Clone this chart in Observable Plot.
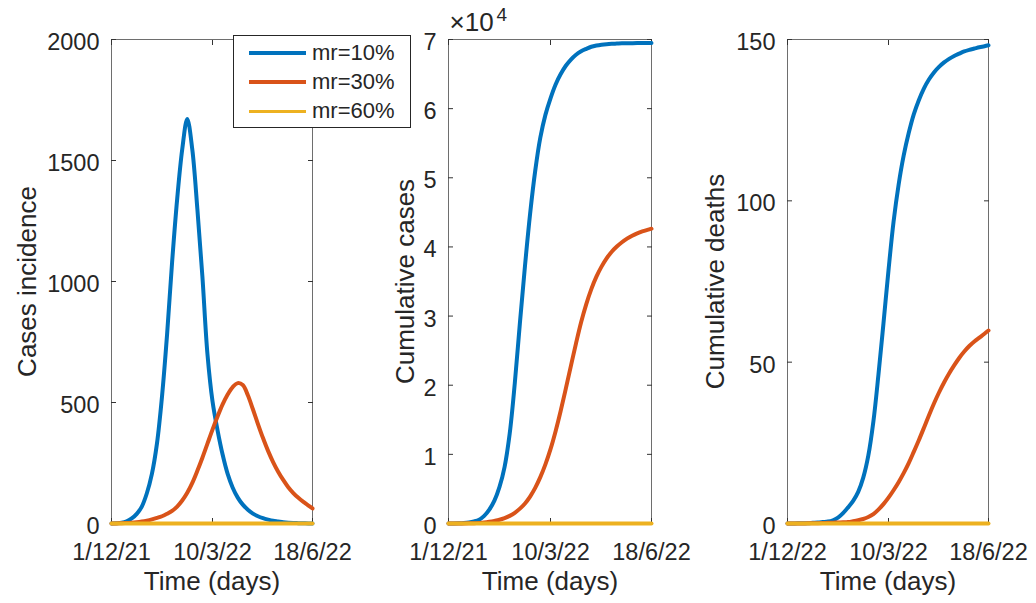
<!DOCTYPE html>
<html>
<head>
<meta charset="utf-8">
<script src="https://cdn.jsdelivr.net/npm/d3@7"></script>
<script src="https://cdn.jsdelivr.net/npm/@observablehq/plot@0.6"></script>
<style>
  html, body { margin: 0; padding: 0; background: #fff; }
  #fig { position: relative; width: 1036px; height: 603px; overflow: hidden;
         font-family: "Liberation Sans", Arial, sans-serif; color: #262626; }
  .panel { position: absolute; top: 0; }
  .panel svg g[aria-label$="axis label"] { font-size: 26px; }
  .legend { position: absolute; left: 233px; top: 35px; width: 178px; height: 93px;
            box-sizing: border-box; border: 1px solid #262626; background: #fff; padding-top: 2px; }
  .legend .row { height: 29.4px; display: flex; align-items: center; }
  .legend .swatch { width: 57px; height: 3.8px; margin-left: 15px; margin-right: 6px; }
  .legend .name { font-size: 22px; line-height: 1; }
</style>
</head>
<body>
<div id="fig"></div>
<script>
// Simulation days since 1 Dec 2021
const days = [0, 5, 10, 15, 20, 25, 30, 35, 40, 45, 50, 55, 60, 65, 70, 75, 80, 85, 90, 95,
              100, 105, 110, 115, 120, 125, 130, 135, 140, 145, 150, 155, 160, 165, 170, 175, 180, 185, 190, 195, 199];

const series = ["mr=10%", "mr=30%", "mr=60%"];
const colors = ["#0072BD", "#D95319", "#EDB120"];

// Daily case incidence
const incidence10 = [0, 1, 3, 9, 21, 40, 70, 125, 205, 330, 525, 780, 1080, 1340, 1545, 1672, 1545, 1300, 1020, 700,
                     505, 385, 285, 205, 148, 107, 78, 57, 41, 30, 22, 16, 11, 8, 5, 3, 2, 1.5, 1, 0.5, 0];
const incidence30 = [0, 0.5, 1, 2, 3, 5, 8, 12, 17, 23, 30, 40, 52, 70, 95, 127, 168, 218, 272, 330,
                     388, 442, 492, 533, 564, 580, 572, 530, 472, 411, 353, 300, 254, 214, 180, 150, 126, 106, 89, 74, 62];
const incidence60 = [0, 0, 0, 0, 0, 0, 0, 0, 0, 0, 0, 0, 0, 0, 0, 0, 0, 0, 0, 0,
                     0, 0, 0, 0, 0, 0, 0, 0, 0, 0, 0, 0, 0, 0, 0, 0, 0, 0, 0, 0, 0];

// Cumulative cases
const cumCases10 = [0, 10, 30, 70, 150, 300, 550, 1100, 2000, 3300, 5300, 8200, 13000, 20300, 29000, 37300, 44800, 51000, 55800, 59100,
                    61500, 63500, 65000, 66200, 67100, 67800, 68300, 68650, 68950, 69130, 69250, 69330, 69380, 69410, 69440, 69455, 69470, 69480, 69490, 69495, 69500];
const cumCases30 = [0, 2, 5, 12, 25, 50, 90, 150, 250, 380, 540, 780, 1100, 1550, 2150, 2900, 3900, 5150, 6700, 8550,
                    10750, 13350, 16300, 19500, 22800, 26050, 29100, 31700, 33900, 35700, 37150, 38350, 39300, 40050, 40680, 41200, 41620, 41960, 42240, 42470, 42640];
const cumCases60 = [0, 0, 0, 0, 0, 0, 0, 0, 0, 0, 0, 0, 0, 0, 0, 0, 0, 0, 0, 0,
                    0, 0, 0, 0, 0, 0, 0, 0, 0, 0, 0, 0, 0, 0, 0, 0, 0, 0, 0, 0, 0];

// Cumulative deaths
const cumDeaths10 = [0, 0.02, 0.05, 0.08, 0.1, 0.2, 0.3, 0.45, 0.6, 1.0, 1.8, 3.2, 5.0, 7.0, 9.8, 14.2, 21, 31.5, 46, 62,
                     78.5, 93.5, 105, 114, 121, 126.8, 131.2, 134.8, 137.6, 139.8, 141.5, 142.9, 144, 144.9, 145.6, 146.3, 146.8, 147.2, 147.6, 147.9, 148.2];
const cumDeaths30 = [0, 0, 0, 0.02, 0.05, 0.07, 0.1, 0.15, 0.2, 0.25, 0.3, 0.35, 0.45, 0.7, 1.0, 1.4, 2.0, 2.9, 4.3, 6.0,
                     8.0, 10.3, 12.8, 15.6, 18.7, 22.2, 25.8, 29.6, 33.5, 37.2, 40.6, 43.7, 46.5, 49.0, 51.3, 53.3, 55.0, 56.4, 57.6, 58.8, 59.8];
const cumDeaths60 = [0, 0, 0, 0, 0, 0, 0, 0, 0, 0, 0, 0, 0, 0, 0, 0, 0, 0, 0, 0,
                     0, 0, 0, 0, 0, 0, 0, 0, 0, 0, 0, 0, 0, 0, 0, 0, 0, 0, 0, 0, 0];

// Axis ticks
const xTicks = [0, 100, 199];
const xLabelsA = ["1/12/21", "10/3/22", "18/6/22"];
const xLabelsB = ["1/12/22", "10/3/22", "18/6/22"];
const incidenceTicks = [0, 500, 1000, 1500, 2000];
const casesTicks = [0, 10000, 20000, 30000, 40000, 50000, 60000, 70000];
const deathsTicks = [0, 50, 100, 150];

const frameColor = "#6e6e6e";
const tickColor = "#333333";

function tidy(list) {
  const rows = [];
  list.forEach((vals, s) => vals.forEach((v, i) => rows.push({day: days[i], value: v, series: series[s]})));
  return rows;
}

function panel({data, yDomain, yTicks, yFormat, yLabel, yLabelOffset, xLabels,
                width, marginLeft, marginRight, extra = []}) {
  const fmtX = d => xLabels[xTicks.indexOf(d)];
  const blank = () => "";
  return Plot.plot({
    width, height: 603,
    marginLeft, marginRight, marginTop: 39, marginBottom: 80,
    style: {fontFamily: '"Liberation Sans", Arial, sans-serif', fontSize: "23.5px", color: "#262626",
            background: "transparent", overflow: "visible"},
    x: {domain: [0, 199]},
    y: {domain: yDomain},
    color: {domain: series, range: colors},
    marks: [
      Plot.frame({stroke: frameColor}),
      Plot.axisX({anchor: "bottom", ticks: xTicks, tickSize: 0, tickPadding: 20, tickFormat: fmtX,
                  label: "Time (days)", labelAnchor: "center", labelOffset: 66, labelArrow: "none"}),
      Plot.axisX({anchor: "bottom", ticks: xTicks, tickSize: -5, tickFormat: blank, label: null, stroke: tickColor}),
      Plot.axisX({anchor: "top", ticks: xTicks, tickSize: -5, tickFormat: blank, label: null, stroke: tickColor}),
      Plot.axisY({anchor: "left", ticks: yTicks, tickSize: 0, tickPadding: 12, dy: 3, tickFormat: yFormat,
                  label: yLabel, labelAnchor: "center", labelOffset: yLabelOffset, labelArrow: "none"}),
      Plot.axisY({anchor: "left", ticks: yTicks, tickSize: -5, tickFormat: blank, label: null, stroke: tickColor}),
      Plot.axisY({anchor: "right", ticks: yTicks, tickSize: -5, tickFormat: blank, label: null, stroke: tickColor}),
      Plot.line(data, {x: "day", y: "value", z: "series", stroke: "series", strokeWidth: 4, curve: "catmull-rom"}),
      ...extra
    ]
  });
}

const fig = document.getElementById("fig");
function place(node, left) {
  const wrap = document.createElement("div");
  wrap.className = "panel";
  wrap.style.left = left + "px";
  wrap.appendChild(node);
  fig.appendChild(wrap);
}

place(panel({
  data: tidy([incidence10, incidence30, incidence60]),
  yDomain: [0, 2000], yTicks: incidenceTicks, yFormat: d => String(d),
  yLabel: "Cases incidence", yLabelOffset: 94, xLabels: xLabelsA,
  width: 340, marginLeft: 111, marginRight: 28
}), 0);

place(panel({
  data: tidy([cumCases10, cumCases30, cumCases60]),
  yDomain: [0, 70000], yTicks: casesTicks, yFormat: d => String(d / 10000),
  yLabel: "Cumulative cases", yLabelOffset: 53, xLabels: xLabelsA,
  width: 340, marginLeft: 108, marginRight: 29,
  extra: [
    Plot.text(["×10"], {text: d => d, frameAnchor: "top-left", textAnchor: "start", lineAnchor: "bottom",
                        dx: 1, dy: -9, fontSize: 26, fill: "#262626"}),
    Plot.text(["4"], {text: d => d, frameAnchor: "top-left", textAnchor: "start", lineAnchor: "bottom",
                      dx: 48, dy: -19, fontSize: 19, fill: "#262626"})
  ]
}), 340);

place(panel({
  data: tidy([cumDeaths10, cumDeaths30, cumDeaths60]),
  yDomain: [0, 150], yTicks: deathsTicks, yFormat: d => String(d),
  yLabel: "Cumulative deaths", yLabelOffset: 82, xLabels: xLabelsB,
  width: 356, marginLeft: 107, marginRight: 48
}), 680);

// Legend box inside the first panel
const legend = document.createElement("div");
legend.className = "legend";
series.forEach((name, i) => {
  const row = document.createElement("div");
  row.className = "row";
  const sw = document.createElement("div");
  sw.className = "swatch";
  sw.style.background = colors[i];
  const label = document.createElement("span");
  label.className = "name";
  label.textContent = name;
  row.appendChild(sw);
  row.appendChild(label);
  legend.appendChild(row);
});
fig.appendChild(legend);
</script>
</body>
</html>
